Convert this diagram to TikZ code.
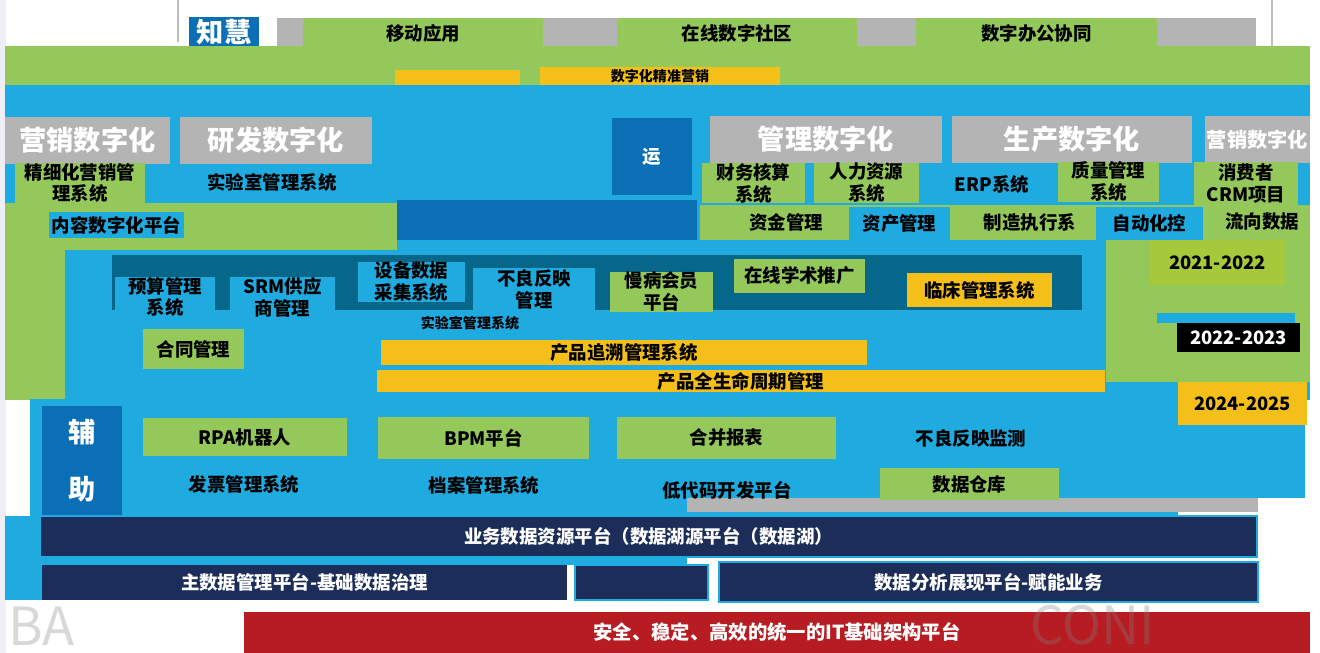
\documentclass[tikz,border=0pt]{standalone}
\usepackage{fontspec}
\setmainfont{Noto Sans CJK SC}
\definecolor{blueM}{HTML}{1FAAE0}
\definecolor{greenM}{HTML}{95C85A}
\definecolor{grayM}{HTML}{B4B4B4}
\definecolor{yellowM}{HTML}{F5BF19}
\definecolor{dblue}{HTML}{0B6FB5}
\definecolor{tealM}{HTML}{07678A}
\definecolor{navyM}{HTML}{1D2D5A}
\definecolor{redM}{HTML}{B71C22}
\definecolor{lgreen}{HTML}{A6C93C}
\definecolor{stripM}{HTML}{EEEEF4}
\newcommand\lab{\fontsize{10.5}{12.5}\selectfont\bfseries}
\newcommand\hdrf{\fontsize{15.5}{17}\selectfont\bfseries}
\newcommand\smallf{\fontsize{8}{9}\selectfont\bfseries}
% box: style, name, x, y, w, h, text
\newcommand\bx[7]{\node[#1,anchor=north west,minimum width=#5*0.02cm,minimum height=#6*0.02cm] (#2) at (#3,#4) {#7};}
\tikzset{
  base/.style={rectangle,inner sep=0pt,outer sep=0pt,align=center,font=\lab,text=black},
  gbox/.style={base,fill=greenM},
  bbox/.style={base,fill=blueM},
  ybox/.style={base,fill=yellowM},
  graybox/.style={base,fill=grayM},
  hdr/.style={base,fill=grayM,text=white,font=\hdrf},
  dbox/.style={base,fill=dblue,text=white},
  tbox/.style={base,fill=tealM},
  nbox/.style={base,fill=navyM,text=white},
  nbord/.style={base,fill=navyM,text=white,draw=blueM,line width=1pt},
  rbox/.style={base,fill=redM,text=white,font=\fontsize{11}{13}\selectfont\bfseries},
  kbox/.style={base,fill=black,text=white},
  lbl/.style={inner sep=0pt,align=center,font=\lab,text=black},
  wlbl/.style={inner sep=0pt,align=center,font=\lab,text=white},
  wm/.style={inner sep=0pt,text=black!50,opacity=0.3,font=\fontsize{30}{30}\selectfont},
  thin/.style={draw=black!25,line width=0.6pt}
}
\begin{document}
\begin{tikzpicture}[x=0.02cm,y=-0.02cm]
\useasboundingbox (0,0) rectangle (1320,653);
\fill[white] (0,0) rectangle (1320,653);
\fill[stripM] (0,0) rectangle (6,653);
% top area
\coordinate (l1a) at (178,0); \coordinate (l1b) at (178,42);
\coordinate (l2a) at (1272,0); \coordinate (l2b) at (1272,50);
\draw[thin] (l1a) -- (l1b);
\draw[thin] (l2a) -- (l2b);
\bx{dbox}{zh}{189}{17}{70}{30}{\hdrf 知慧}
\bx{graybox}{topbar}{277}{18}{979}{30}{}
\bx{gbox}{yd}{303}{18}{240}{30}{移动应用}
\bx{gbox}{zx}{617}{18}{240}{30}{在线数字社区}
\bx{gbox}{bg}{916}{18}{241}{30}{数字办公协同}
% green band
\bx{gbox}{band1}{5}{46}{1305}{40}{}
\bx{ybox}{y1}{395}{70}{125}{16}{}
\bx{ybox}{y2}{540}{67}{240}{19}{\smallf 数字化精准营销}
% main blue
\bx{bbox}{main}{5}{85}{1305}{315}{}
% headers
\bx{hdr}{h1}{5}{117}{165}{47}{营销数字化}
\bx{hdr}{h2}{180}{117}{192}{47}{研发数字化}
\bx{dbox}{yun}{612}{118}{80}{77}{运}
\bx{hdr}{h3}{710}{116}{232}{47}{管理数字化}
\bx{hdr}{h4}{952}{116}{240}{47}{生产数字化}
\bx{hdr,font=\fontsize{11.5}{13}\selectfont\bfseries}{h5}{1205}{116}{105}{47}{营销数字化}
% second row
\bx{gbox}{jx}{15}{163}{130}{40}{精细化营销管\\理系统}
\node[lbl] (sys) at (272,182) {实验室管理系统};
\bx{gbox}{cw}{702}{163}{103}{40}{财务核算\\系统}
\bx{gbox}{rl}{814}{163}{105}{40}{人力资源\\系统}
\node[lbl] (erp) at (992,184) {ERP系统};
\bx{gbox}{zl}{1058}{162}{101}{33}{质量管理\\系统}
\bx{gbox}{xf}{1194}{162}{104}{43}{消费者\\CRM项目}
% third row
\bx{gbox}{gl}{5}{203}{392}{47}{}
\bx{bbox}{nr}{49}{212}{135}{26}{内容数字化平台}
\bx{dbox}{dk}{397}{200}{300}{40}{}
\bx{gbox}{gr}{700}{205}{610}{35}{}
\node[lbl] (zj) at (786,222) {资金管理};
\bx{bbox}{zc}{849}{207}{101}{33}{资产管理}
\node[lbl] (zz) at (1030,222) {制造执行系};
\bx{bbox}{zd}{1096}{207}{107}{33}{自动化控};
\node[lbl] (lx) at (1262,222) {流向数据};
% left green column
\bx{gbox}{lg}{5}{250}{60}{150}{}
% teal band
\bx{tbox}{teal}{112}{255}{970}{55}{}
\bx{bbox}{ys}{115}{277}{100}{40}{预算管理\\系统}
\bx{bbox}{srm}{230}{277}{105}{40}{SRM供应\\商管理}
\bx{bbox}{sb}{358}{262}{107}{38}{设备数据\\采集系统}
\bx{bbox}{bl}{473}{268}{122}{42}{不良反映\\管理}
\bx{gbox}{mb}{610}{272}{103}{31}{慢病会员\\平台}
\bx{gbox}{xs}{734}{259}{131}{34}{在线学术推广}
\bx{ybox}{lc}{907}{273}{145}{34}{临床管理系统}
\node[lbl,font=\smallf] (sy2) at (470,323) {实验室管理系统};
\bx{gbox}{ht}{143}{329}{101}{40}{合同管理}
\bx{ybox}{zs}{381}{340}{486}{25}{产品追溯管理系统}
\bx{ybox}{qs}{377}{370}{728}{22}{产品全生命周期管理}
% year area
\bx{gbox}{yr}{1106}{240}{204}{142}{}
\bx{base,fill=lgreen}{y21}{1150}{240}{135}{45}{2021-2022}
\bx{bbox}{ys2}{1157}{313}{138}{10}{}
\bx{kbox}{y22}{1177}{323}{123}{29}{2022-2023}
\bx{ybox}{y24}{1178}{382}{129}{43}{2024-2025}
% assist panel
\bx{bbox}{ast}{30}{399}{1148}{117}{}
\bx{bbox}{ast2}{1178}{425}{127}{73}{}
\bx{graybox}{gs}{687}{498}{571}{14}{}
\bx{dbox}{fz}{42}{406}{80}{110}{\hdrf 辅\\[1.6em]\hdrf 助}
\bx{gbox}{rpa}{143}{418}{204}{38}{RPA机器人}
\bx{gbox}{bpm}{378}{417}{211}{42}{BPM平台}
\bx{gbox}{hb}{617}{417}{219}{42}{合并报表}
\node[lbl] (blfy) at (971,438) {不良反映监测};
\node[lbl] (fp) at (244,484) {发票管理系统};
\node[lbl] (da) at (484,485) {档案管理系统};
\node[lbl] (ld) at (727,490) {低代码开发平台};
\bx{gbox}{ck}{880}{468}{179}{32}{数据仓库}
% bottom bars
\bx{bbox}{lb}{5}{516}{37}{84}{}
\bx{nbord}{dl}{40}{516}{1217}{41}{业务数据资源平台（数据湖源平台（数据湖）}
\bx{bbox}{bs}{5}{557}{682}{8}{}
\bx{nbox}{md}{42}{565}{525}{35}{主数据管理平台-基础数据治理}
\bx{nbord}{sm}{575}{565}{133}{35}{}
\bx{nbord}{fx}{719}{562}{539}{40}{数据分析展现平台-赋能业务}
\bx{rbox}{it}{244}{612}{1066}{41}{安全、稳定、高效的统一的IT基础架构平台}
% watermarks
\node[wm,anchor=south west] (wm1) at (8,646) {BA};
\node[wm,anchor=south west] (wm2) at (1030,646) {CONI};
\end{tikzpicture}
\end{document}
